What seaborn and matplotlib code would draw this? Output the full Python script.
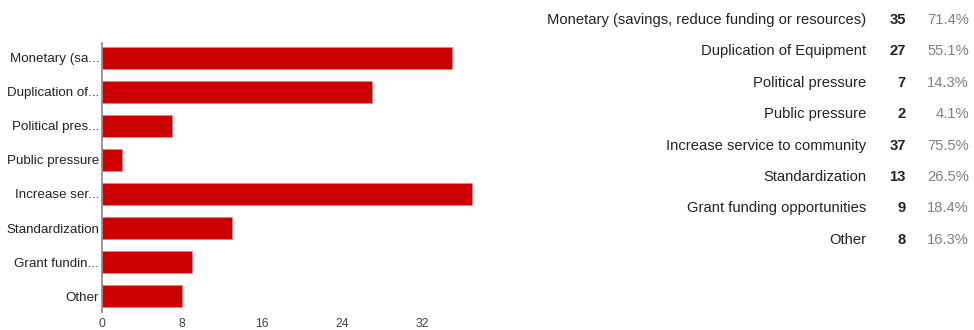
import matplotlib
matplotlib.use("Agg")
import matplotlib.pyplot as plt
import seaborn as sns
import pandas as pd

short_labels = ["Monetary (sa...", "Duplication of...", "Political pres...", "Public pressure",
                "Increase ser...", "Standardization", "Grant fundin...", "Other"]
full_labels = ["Monetary (savings, reduce funding or resources)", "Duplication of Equipment",
               "Political pressure", "Public pressure", "Increase service to community",
               "Standardization", "Grant funding opportunities", "Other"]
counts = [35, 27, 7, 2, 37, 13, 9, 8]
percents = ["71.4%", "55.1%", "14.3%", "4.1%", "75.5%", "26.5%", "18.4%", "16.3%"]
xticks = [0, 8, 16, 24, 32]

sns.set_theme(style="white")
plt.rcParams['font.family'] = ['Liberation Sans', 'DejaVu Sans']

W, H = 974, 330
fig = plt.figure(figsize=(W / 100, H / 100), dpi=100)
ax = fig.add_axes([102 / W, 1 - 312 / H, 400 / W, 269 / H])

df = pd.DataFrame({"label": short_labels, "count": counts})
sns.barplot(data=df, x="count", y="label", orient="h", color="#cc0000",
            saturation=1, width=0.65, ax=ax, edgecolor="#e88080", linewidth=0.5)
ax.set_xlim(0, 40)
ax.set_ylim(7.47, -0.44)
ax.set_xticks(xticks)
ax.set_xlabel("")
ax.set_ylabel("")
for s in ["top", "right", "bottom"]:
    ax.spines[s].set_visible(False)
ax.spines["left"].set_color("#888888")
ax.spines["left"].set_linewidth(1.2)
ax.tick_params(axis="y", length=0, pad=2, labelsize=9.6, labelcolor="#222222")
ax.tick_params(axis="x", length=0, pad=4, labelsize=8.8, labelcolor="#444444")
ax.grid(False)

for i, (lab, c, p) in enumerate(zip(full_labels, counts, percents)):
    ypx = 20 + 31.4 * i
    yf = 1 - ypx / H
    fig.text(866 / W, yf, lab, ha="right", va="center", fontsize=10.6, color="#222222")
    fig.text(906 / W, yf, str(c), ha="right", va="center", fontsize=10.6,
             color="#222222", fontweight="bold")
    fig.text(969 / W, yf, p, ha="right", va="center", fontsize=10.6, color="#808080")

fig.savefig("out.png", dpi=100, facecolor="white")
